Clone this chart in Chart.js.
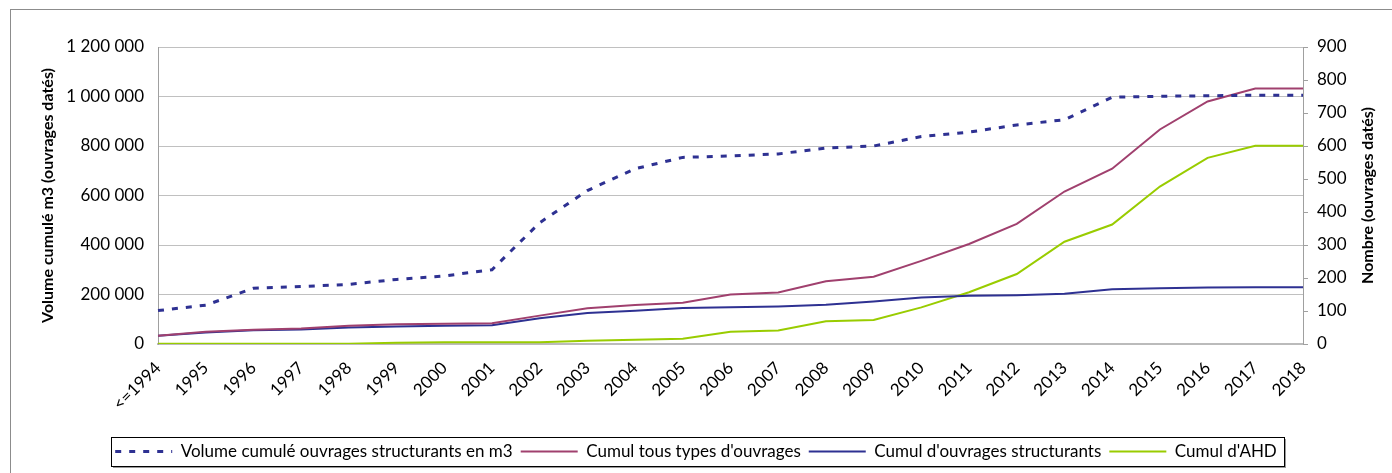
<!DOCTYPE html>
<html><head><meta charset="utf-8">
<script src="https://cdn.jsdelivr.net/npm/chart.js@4/dist/chart.umd.min.js"></script>
<style>html,body{margin:0;padding:0;background:#fff;overflow:hidden}</style>
</head><body>
<canvas id="c" width="1392" height="473" style="display:block;width:1392px;height:473px"></canvas>
<script>
const categories = ['<=1994','1995','1996','1997','1998','1999','2000','2001','2002','2003','2004','2005','2006','2007','2008','2009','2010','2011','2012','2013','2014','2015','2016','2017','2018'];
const volumeCumule = [135000,157000,225000,232000,241000,261000,275000,300000,490000,620000,708000,754000,760000,768000,792000,800000,838000,856000,885000,906000,997000,1001000,1003000,1005000,1005000];
const cumulTousTypes = [25,37,43,47,55,60,61,63,86,108,118,125,150,156,190,204,252,303,364,462,531,650,735,774,774];
const cumulStructurants = [25,35,42,44,50,53,55,57,78,94,101,109,111,114,119,129,141,146,148,152,166,169,171,172,172];
const cumulAHD = [1,1,1,1,1,4,5,5,5,10,13,16,37,41,69,73,111,157,212,310,362,477,564,601,601];
const seriesLabels = ['Volume cumulé ouvrages structurants en m3','Cumul tous types d\'ouvrages','Cumul d\'ouvrages structurants','Cumul d\'AHD'];
const leftAxisTitle = 'Volume cumulé m3 (ouvrages datés)';
const rightAxisTitle = 'Nombre (ouvrages datés)';
const leftMax = 1200000, leftStep = 200000;
const rightMax = 900, rightStep = 100;

const FONT = 'Lato';
const fmt = v => String(v).replace(/\B(?=(\d{3})+(?!\d))/g, ' ');

const decor = {
  id: 'decor',
  beforeDraw(chart) {
    const ctx = chart.ctx;
    ctx.save();
    ctx.fillStyle = '#fff';
    ctx.fillRect(0, 0, chart.width, chart.height);
    ctx.strokeStyle = '#8c8c8c';
    ctx.lineWidth = 1;
    ctx.strokeRect(10.5, 9.5, chart.width + 20, chart.height + 20);
    const lg = chart.legend;
    if (lg && lg.legendHitBoxes && lg.legendHitBoxes.length) {
      const hb = lg.legendHitBoxes;
      const l = Math.round(Math.min(...hb.map(h => h.left)) - 4);
      const r = Math.round(Math.max(...hb.map(h => h.left + h.width)) + 7);
      const cy = hb[0].top + hb[0].height / 2;
      const t = Math.round(cy - 14.5), b = Math.round(cy + 14.5);
      ctx.fillStyle = '#9a9a9a';
      ctx.fillRect(l + 2, t + 2, r - l, b - t);
      ctx.fillStyle = '#fff';
      ctx.fillRect(l + 0.5, t + 0.5, r - l, b - t);
      ctx.strokeStyle = '#000';
      ctx.lineWidth = 1;
      ctx.strokeRect(l + 0.5, t + 0.5, r - l, b - t);
    }
    ctx.restore();
  },
  afterDraw(chart) {
    const ctx = chart.ctx;
    const ca = chart.chartArea;
    const cy = (ca.top + ca.bottom) / 2;
    [[48, leftAxisTitle], [1368, rightAxisTitle]].forEach(([x, txt]) => {
      ctx.save();
      ctx.fillStyle = '#000';
      ctx.font = 'bold 16px ' + FONT;
      ctx.textAlign = 'center';
      ctx.textBaseline = 'middle';
      ctx.translate(x, cy);
      ctx.rotate(-Math.PI / 2);
      ctx.fillText(txt, 0, 0);
      ctx.restore();
    });
  }
};

new Chart(document.getElementById('c'), {
  type: 'line',
  data: {
    labels: categories,
    datasets: [
      { label: seriesLabels[0], data: volumeCumule, yAxisID: 'yL', borderColor: '#2E3192', backgroundColor: '#2E3192', borderWidth: 3, borderDash: [6, 8], pointRadius: 0, tension: 0 },
      { label: seriesLabels[1], data: cumulTousTypes, yAxisID: 'yR', borderColor: '#A0406E', backgroundColor: '#A0406E', borderWidth: 2, pointRadius: 0, tension: 0 },
      { label: seriesLabels[2], data: cumulStructurants, yAxisID: 'yR', borderColor: '#2E3192', backgroundColor: '#2E3192', borderWidth: 2, pointRadius: 0, tension: 0 },
      { label: seriesLabels[3], data: cumulAHD, yAxisID: 'yR', borderColor: '#99CC00', backgroundColor: '#99CC00', borderWidth: 2, pointRadius: 0, tension: 0 }
    ]
  },
  options: {
    responsive: false,
    animation: false,
    devicePixelRatio: 1,
    layout: { padding: { top: 47, bottom: 3, left: 0, right: 0 } },
    plugins: {
      tooltip: { enabled: false },
      legend: {
        position: 'bottom',
        labels: {
          usePointStyle: true,
          pointStyle: 'line',
          pointStyleWidth: 57,
          padding: 8,
          color: '#000',
          font: { family: FONT, size: 17 },
          generateLabels(chart) {
            return chart.data.datasets.map((ds, i) => ({
              text: ds.label,
              datasetIndex: i,
              fillStyle: ds.borderColor,
              strokeStyle: ds.borderColor,
              lineWidth: ds.borderWidth,
              lineDash: ds.borderDash || [],
              lineCap: 'butt',
              pointStyle: 'line',
              hidden: false,
              fontColor: '#000'
            }));
          }
        }
      }
    },
    scales: {
      x: {
        offset: false,
        grid: { display: false, drawTicks: false },
        border: { display: true, color: '#BBBBBB', width: 2 },
        ticks: { autoSkip: false, minRotation: 45, maxRotation: 45, padding: 14, color: '#000', font: { family: FONT, size: 17 } },
        afterFit(s) { s.height = 91; s.paddingLeft = 0; s.paddingRight = 0; }
      },
      yL: {
        position: 'left',
        min: 0, max: leftMax,
        grid: { color: '#C0C0C0', drawTicks: false, tickLength: 0 },
        border: { display: true, color: '#A0A0A0', width: 1 },
        ticks: { stepSize: leftStep, padding: 14, color: '#000', font: { family: FONT, size: 17 }, callback: v => fmt(v) },
        afterFit(s) { s.width = 158; s.paddingTop = 0; s.paddingBottom = 0; }
      },
      yR: {
        position: 'right',
        min: 0, max: rightMax,
        grid: { drawOnChartArea: false, drawTicks: true, tickLength: 5, color: '#A0A0A0' },
        border: { display: true, color: '#A0A0A0', width: 1 },
        ticks: { stepSize: rightStep, padding: 9, color: '#000', font: { family: FONT, size: 17 } },
        afterFit(s) { s.width = 89; s.paddingTop = 0; s.paddingBottom = 0; }
      }
    }
  },
  plugins: [decor]
});
</script>
</body></html>
